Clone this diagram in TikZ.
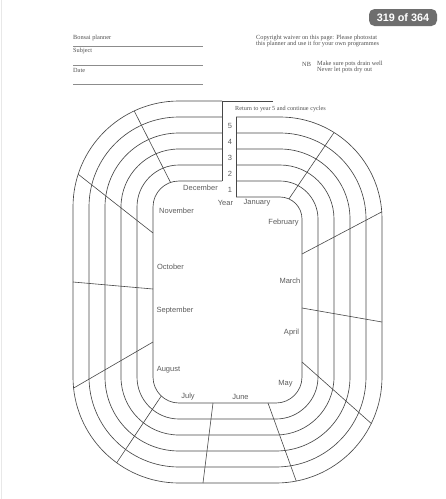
\documentclass[tikz,border=0pt]{standalone}
\usepackage{fontspec}
\setmainfont{Liberation Serif}
\setsansfont{Liberation Sans}
\usetikzlibrary{calc, positioning}
\definecolor{trackline}{HTML}{474747}
\definecolor{monthtext}{HTML}{5C5C5C}
\definecolor{hdrtext}{HTML}{505050}
\definecolor{ruleline}{HTML}{8C8C8C}
\definecolor{badgefill}{HTML}{6E6E6E}
\definecolor{pageedge}{HTML}{E8E8E8}
\tikzset{
  track/.style={line width=0.65pt, draw=trackline},
  divider/.style={line width=0.6pt, draw=trackline},
  month/.style={font=\fontsize{7.5}{9}\selectfont\sffamily, text=monthtext, inner sep=0pt},
  hdr/.style={font=\fontsize{6.3}{6.2}\selectfont, text=hdrtext, inner sep=0pt, anchor=west, align=left},
  formrule/.style={line width=0.45pt, draw=ruleline},
  badge/.style={rounded corners=5.5pt, fill=badgefill, text=white,
    font=\fontsize{10.8}{12}\selectfont\sffamily\bfseries,
    minimum width=68pt, minimum height=17pt, inner sep=0pt},
}

\begin{document}
\begin{tikzpicture}[x=1pt, y=-1pt]

\useasboundingbox (0,0) rectangle (446,499);
\fill[white] (0,0) rectangle (446,499);
\draw[pageedge, line width=1pt] (1,0) -- (1,499);

% ── page counter ────────────────────────────────────────────────
\node[badge] (counter) at (403,17.5) {319 of 364};

% ── form header (left) ──────────────────────────────────────────
\node[hdr] (title)   at (73,38)   {Bonsai planner};
\node[hdr] (subject) at (73,51)   {Subject};
\node[hdr] (date)    at (73,70.5) {Date};
\draw[formrule] (73,46) -- (203,46);
\draw[formrule] (73,65) -- (203,65);
\draw[formrule] (73,84) -- (203,84);

% ── notes (right) ───────────────────────────────────────────────
\node[hdr] (waiver) at (256,41) {Copyright waiver on this page: Please photostat\\this planner and use it for your own programmes};
\node[hdr] (nb)     at (302,64) {NB};
\node[hdr] (nbtext) at (317,67) {Make sure pots drain well\\Never let pots dry out};

% ── spiral track: one open boundary per year ring ───────────────
\coordinate (tl) at (179,207);
\coordinate (bl) at (179,377);
\coordinate (br) at (276,377);
\coordinate (tr) at (280,219);
\foreach \k in {0,...,5}{
  \pgfmathsetmacro{\d}{16*\k}
  \draw[track] (222,181-\d) -- (179,181-\d)
    arc[start angle=270, end angle=180, radius=26+\d]
    -- (153-\d,377)
    arc[start angle=180, end angle=90, radius=26+\d]
    -- (276,403+\d)
    arc[start angle=90, end angle=0, radius=26+\d]
    -- (302+\d,219)
    arc[start angle=0, end angle=-90, radius=22+\d]
    -- (236,197-\d);
}
% year gap
\draw[track] (273,101) -- (222,101) -- (222,181);
\draw[track] (236,117) -- (236,197);
\node[hdr, font=\fontsize{6.2}{7}\selectfont] (loopnote) at (235,109) {Return to year 5 and continue cycles};

% ── year numbers ────────────────────────────────────────────────
\foreach \n [count=\i] in {5,4,3,2,1}
  \node[month] (y\n) at (230,110+16*\i) {\n};
\node[month] (year) at (225.5,203) {Year};

% ── month dividers ──────────────────────────────────────────────
\draw[divider] ($(tl)+(251:26)$) -- ($(tl)+(245:106)$);   % Dec | Nov
\draw[divider] ($(tl)+(198:106)$) -- (153,233);           % Nov | Oct
\draw[divider] (73,282) -- (153,289);                     % Oct | Sep
\draw[divider] (153,342) -- ($(bl)+(174:106)$);           % Sep | Aug
\draw[divider] ($(bl)+(133:26)$) -- ($(bl)+(126:106)$);   % Aug | Jul
\draw[divider] (213,403) -- (203,483);                    % Jul | Jun
\draw[divider] (268,403) -- ($(br)+(79:106)$);            % Jun | May
\draw[divider] (302,362) -- ($(br)+(26:106)$);            % May | Apr
\draw[divider] (302,308) -- (382,322);                    % Apr | Mar
\draw[divider] (302,254) -- ($(tr)+(-4:102)$);            % Mar | Feb
\draw[divider] ($(tr)+(-66:22)$) -- ($(tr)+(-58:102)$);   % Feb | Jan

% ── month labels ────────────────────────────────────────────────
\node[month] (jan) at (257,203)   {January};
\node[month] (feb) at (283.5,223) {February};
\node[month] (mar) at (290,281)   {March};
\node[month] (apr) at (291.5,333) {April};
\node[month] (may) at (285.5,384) {May};
\node[month] (jun) at (240.5,397) {June};
\node[month] (jul) at (188,397)   {July};
\node[month] (aug) at (168.5,370) {August};
\node[month] (sep) at (175,311)   {September};
\node[month] (oct) at (170.5,267) {October};
\node[month] (nov) at (176.5,211) {November};
\node[month] (dec) at (200.5,188) {December};

\end{tikzpicture}
\end{document}
